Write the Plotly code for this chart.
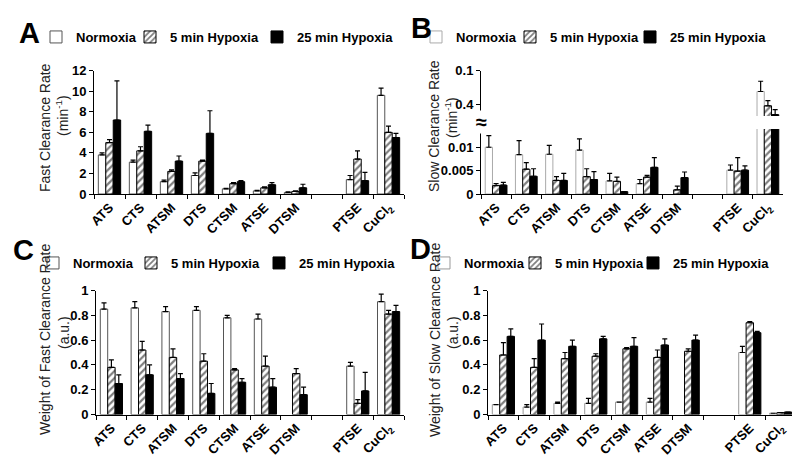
import plotly.graph_objects as go

# ---------------- data ----------------
categories = ["ATS", "CTS", "ATSM", "DTS", "CTSM", "ATSE", "DTSM", " ", "PTSE", "CuCl<sub>2</sub>"]
series_names = ["Normoxia", "5 min Hypoxia", "25 min Hypoxia"]

# Panel A: fast clearance rate (min^-1)
fast_norm = [3.8, 3.1, 1.2, 1.8, 0.5, 0.3, 0.15, None, 1.4, 9.6]
fast_norm_err = [0.2, 0.2, 0.15, 0.25, 0.05, 0.05, 0.05, None, 0.4, 0.7]
fast_5 = [5.0, 4.2, 2.2, 3.2, 1.0, 0.6, 0.25, None, 3.4, 6.0]
fast_5_err = [0.3, 0.4, 0.15, 0.1, 0.1, 0.1, 0.05, None, 0.8, 0.6]
fast_25 = [7.2, 6.1, 3.2, 5.9, 1.2, 0.9, 0.6, None, 1.3, 5.5]
fast_25_err = [3.8, 0.6, 0.5, 2.2, 0.1, 0.2, 0.35, None, 0.8, 0.4]

# Panel B: slow clearance rate (min^-1), broken axis
slow_norm = [0.0100, 0.0084, 0.0085, 0.0094, 0.0028, 0.0022, None, None, 0.0051, 0.439]
slow_norm_err = [0.0025, 0.0030, 0.0019, 0.0024, 0.0016, 0.0009, None, None, 0.0011, 0.030]
slow_5 = [0.0018, 0.0053, 0.0029, 0.0037, 0.0027, 0.0036, 0.0009, None, 0.0049, 0.397]
slow_5_err = [0.0004, 0.0014, 0.0008, 0.0017, 0.0009, 0.0004, 0.0008, None, 0.0029, 0.015]
slow_25 = [0.0019, 0.0038, 0.0029, 0.0031, 0.0005, 0.0057, 0.0035, None, 0.0051, 0.371]
slow_25_err = [0.0006, 0.0016, 0.0015, 0.0017, 0.0, 0.0021, 0.0012, None, 0.0009, 0.015]

# Panel C: weight of fast clearance rate (a.u.)
wfast_norm = [0.85, 0.86, 0.83, 0.84, 0.78, 0.77, None, None, 0.39, 0.91]
wfast_norm_err = [0.05, 0.05, 0.04, 0.03, 0.02, 0.04, None, None, 0.03, 0.06]
wfast_5 = [0.38, 0.52, 0.46, 0.43, 0.36, 0.39, 0.33, None, 0.09, 0.81]
wfast_5_err = [0.06, 0.07, 0.07, 0.06, 0.01, 0.08, 0.04, None, 0.03, 0.03]
wfast_25 = [0.25, 0.32, 0.29, 0.17, 0.26, 0.22, 0.16, None, 0.19, 0.83]
wfast_25_err = [0.07, 0.08, 0.04, 0.08, 0.03, 0.07, 0.06, None, 0.15, 0.05]

# Panel D: weight of slow clearance rate (a.u.)
wslow_norm = [0.08, 0.06, 0.09, 0.09, 0.10, 0.10, None, None, 0.50, 0.01]
wslow_norm_err = [0.0, 0.02, 0.01, 0.04, 0.0, 0.03, None, None, 0.05, 0.0]
wslow_5 = [0.48, 0.38, 0.45, 0.47, 0.53, 0.46, 0.51, None, 0.74, 0.015]
wslow_5_err = [0.10, 0.07, 0.05, 0.02, 0.01, 0.06, 0.02, None, 0.01, 0.0]
wslow_25 = [0.63, 0.60, 0.55, 0.61, 0.55, 0.56, 0.60, None, 0.66, 0.02]
wslow_25_err = [0.06, 0.13, 0.05, 0.02, 0.07, 0.05, 0.04, None, 0.01, 0.0]

# y tick labels
tickA = [0, 2, 4, 6, 8, 10, 12]
tickB_low = [0, 0.005, 0.01]
tickB_low_text = ["0", "0.005", "0.01"]
tickB_up = [0.4, 0.5]
tickB_up_text = ["0.4", "0.1"]
tickCD = [0, 0.2, 0.4, 0.6, 0.8, 1]
tickCD_text = ["0", "0.2", "0.4", "0.6", "0.8", "1"]

FONT = "Arial, Liberation Sans, sans-serif"
W, H = 800, 460


def px_x(p):
    return p / W


def px_y(p):
    return 1 - p / H


fig = go.Figure()
legend_counter = [0]


def legend_id():
    legend_counter[0] += 1
    return "legend" if legend_counter[0] == 1 else "legend%d" % legend_counter[0]


def add_panel(vals, errs, xa, ya, norm_line, legends=None):
    styles = [
        dict(color="white", line=dict(color=norm_line, width=1)),
        dict(color="white", line=dict(color="black", width=1),
             pattern=dict(shape="/", fgcolor="black", bgcolor="white", size=5, solidity=0.45)),
        dict(color="black", line=dict(color="black", width=1)),
    ]
    used = []
    for i, (name, v, e, st) in enumerate(zip(series_names, vals, errs, styles)):
        if legends is None:
            lg = legend_id()
            show = True
        else:
            lg = legends[i]
            show = False
        used.append(lg)
        fig.add_trace(go.Bar(
            x=categories, y=v, name=name, marker=st,
            error_y=dict(type="data", array=[x if x is not None else 0 for x in e],
                         arrayminus=[0] * len(e), symmetric=False,
                         color="black", thickness=1.2, width=2.5),
            xaxis=xa, yaxis=ya, legend=lg, showlegend=show,
        ))
    return used


lgA = add_panel([fast_norm, fast_5, fast_25], [fast_norm_err, fast_5_err, fast_25_err], "x", "y", "#555")
lgB = add_panel([slow_norm, slow_5, slow_25], [slow_norm_err, slow_5_err, slow_25_err], "x2", "y2", "#aaa")
add_panel([slow_norm, slow_5, slow_25], [slow_norm_err, slow_5_err, slow_25_err], "x2", "y3", "#aaa", legends=lgB)
lgC = add_panel([wfast_norm, wfast_5, wfast_25], [wfast_norm_err, wfast_5_err, wfast_25_err], "x3", "y4", "#555")
lgD = add_panel([wslow_norm, wslow_5, wslow_25], [wslow_norm_err, wslow_5_err, wslow_25_err], "x4", "y5", "#999")

tickfont = dict(family=FONT, size=13, color="black", weight="bold")


def xaxis(domain, anchor):
    return dict(domain=domain, anchor=anchor, type="category", categoryorder="array",
                categoryarray=categories, range=[-0.5, 9.5], tickson="boundaries",
                ticks="outside", ticklen=4, tickcolor="black", showline=True, linecolor="black",
                linewidth=1, showgrid=False, zeroline=False, tickangle=-45, tickfont=tickfont,
                fixedrange=True, automargin=False)


def yaxis(domain, anchor, rng, tv, tt=None):
    d = dict(domain=domain, anchor=anchor, range=rng, tickvals=tv, ticks="outside", ticklen=4,
             tickcolor="black", showline=True, linecolor="black", linewidth=1, showgrid=False,
             zeroline=False, tickfont=tickfont, fixedrange=True, automargin=False)
    if tt is not None:
        d["ticktext"] = tt
    return d


top_y = [px_y(186), px_y(62.7)]
bot_y = [px_y(406.5), px_y(282.5)]

legend_common = dict(orientation="h", yanchor="middle", xanchor="left", bgcolor="rgba(0,0,0,0)",
                     font=dict(family=FONT, size=13, color="black", weight="bold"),
                     itemwidth=30, tracegroupgap=0, itemclick=False, itemdoubleclick=False)

# legend item anchor positions (px): one legend box per item
legend_x = {
    lgA[0]: 28, lgA[1]: 122, lgA[2]: 249,
    lgB[0]: 408, lgB[1]: 502, lgB[2]: 622,
    lgC[0]: 25, lgC[1]: 123, lgC[2]: 251,
    lgD[0]: 416, lgD[1]: 507, lgD[2]: 625,
}
legend_y = {}
for lg in lgA + lgB:
    legend_y[lg] = 29
for lg in lgC + lgD:
    legend_y[lg] = 255

legend_layout = {lg: dict(legend_common, x=px_x(legend_x[lg]), y=px_y(legend_y[lg])) for lg in legend_x}

fig.update_layout(
    width=W, height=H, margin=dict(l=0, r=0, t=0, b=0),
    paper_bgcolor="white", plot_bgcolor="white",
    barmode="group", bargap=0.28, bargroupgap=0,
    font=dict(family=FONT, color="black"),
    showlegend=True,
    xaxis=xaxis([px_x(86), px_x(396)], "y"),
    yaxis=yaxis(top_y, "x", [0, 12], tickA),
    xaxis2=xaxis([px_x(473), px_x(775)], "y2"),
    yaxis2=yaxis([px_y(186), px_y(121)], "x2", [0, 0.0139], tickB_low, tickB_low_text),
    yaxis3=yaxis([px_y(108), px_y(62.7)], "x2", [0.367, 0.5], tickB_up, tickB_up_text),
    xaxis3=xaxis([px_x(88), px_x(396)], "y4"),
    yaxis4=yaxis(bot_y, "x3", [0, 1], tickCD, tickCD_text),
    xaxis4=xaxis([px_x(480), px_x(788)], "y5"),
    yaxis5=yaxis(bot_y, "x4", [0, 1], tickCD, tickCD_text),
    **legend_layout,
)

letter_font = dict(family=FONT, size=29, color="black", weight="bold")
for txt, x, y in [("A", 21, 25), ("B", 414, 20), ("C", 15, 242), ("D", 412, 241)]:
    fig.add_annotation(text=txt, x=px_x(x), y=px_y(y), xref="paper", yref="paper",
                       showarrow=False, font=letter_font, xanchor="center", yanchor="middle")

title_font = dict(family=FONT, size=14, color="#222")
titles = [
    ("Fast Clearance Rate", 37, 120), ("(min<sup>-1</sup>)", 54, 108),
    ("Slow Clearance Rate", 426, 118), ("(min<sup>-1</sup>)", 443, 110),
    ("Weight of Fast Clearance Rate", 37, 332), ("(a.u.)", 56, 325),
    ("Weight of Slow Clearance Rate", 427, 332), ("(a.u.)", 445, 325),
]
for txt, x, y in titles:
    fig.add_annotation(text=txt, x=px_x(x), y=px_y(y), xref="paper", yref="paper",
                       showarrow=False, font=title_font, textangle=-90,
                       xanchor="center", yanchor="middle")

# axis break mark
fig.add_annotation(text="≈", x=px_x(473), y=px_y(114), xref="paper", yref="paper",
                   showarrow=False, font=dict(family=FONT, size=20, color="black", weight="bold"),
                   bgcolor="white", borderpad=0, xanchor="center", yanchor="middle")

fig.write_html("out.html")
